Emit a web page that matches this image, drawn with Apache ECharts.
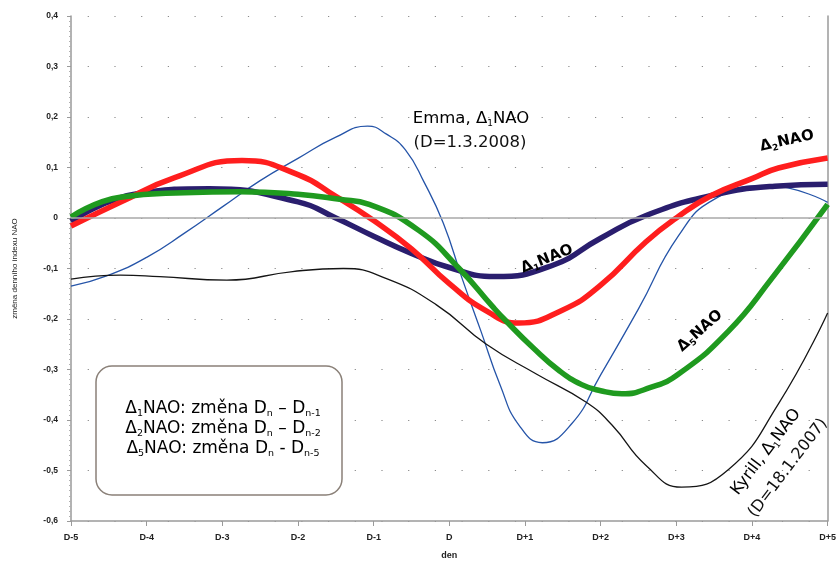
<!DOCTYPE html>
<html>
<head>
<meta charset="utf-8">
<script src="https://cdn.jsdelivr.net/npm/echarts@6/dist/echarts.min.js"></script>
<style>
  html, body { margin: 0; padding: 0; background: #fff; }
  #main { width: 839px; height: 565px; }
</style>
</head>
<body>
<div id="main"></div>
<script>
// osa x: den vzhledem k D
var dayLabels = ['D-5', 'D-4', 'D-3', 'D-2', 'D-1', 'D', 'D+1', 'D+2', 'D+3', 'D+4', 'D+5'];

// Emma (D=1.3.2008), Δ1NAO
var emmaDay = [-5, -4.5, -4, -3.5, -3, -2.5, -2, -1.5, -1.08, -0.83, -0.58, -0.33, -0.08, 0.17, 0.42, 0.67, 0.92, 1.23, 1.62, 1.98, 2.5, 3.03, 3.5, 4.2, 5];
var emmaVal = [-0.135, -0.113, -0.078, -0.03, 0.022, 0.074, 0.118, 0.16, 0.182, 0.166, 0.135, 0.07, -0.01, -0.12, -0.225, -0.33, -0.41, -0.445, -0.407, -0.316, -0.18, -0.035, 0.037, 0.064, 0.031];

// Kyrill (D=18.1.2007), Δ1NAO
var kyrillDay = [-5, -4.35, -3.83, -2.94, -2.07, -1.4, -0.83, -0.17, 0.49, 1.15, 1.81, 2.15, 2.6, 3.07, 3.69, 4.35, 5];
var kyrillVal = [-0.121, -0.113, -0.116, -0.123, -0.106, -0.1, -0.12, -0.172, -0.25, -0.309, -0.365, -0.41, -0.49, -0.533, -0.498, -0.368, -0.188];

// Δ1NAO průměr
var d1Day = [-5, -4.09, -3.17, -2, -1.5, -1, -0.5, 0, 0.6, 1.36, 2, 2.6, 3.48, 4.3, 5];
var d1Val = [-0.007, 0.049, 0.058, 0.032, 0.0, -0.036, -0.07, -0.098, -0.116, -0.094, -0.04, 0.005, 0.045, 0.063, 0.067];

// Δ2NAO průměr
var d2Day = [-5, -4.35, -3.63, -2.74, -2, -1.5, -1, -0.5, 0, 0.5, 0.92, 1.5, 2, 2.6, 3, 3.47, 4, 4.35, 5];
var d2Val = [-0.016, 0.031, 0.08, 0.114, 0.086, 0.043, -0.005, -0.061, -0.13, -0.185, -0.208, -0.182, -0.133, -0.047, 0.0, 0.045, 0.078, 0.099, 0.119];

// Δ5NAO průměr
var d5Day = [-5, -4.35, -3.5, -2.77, -2, -1.45, -1.06, -0.4, 0.13, 0.57, 0.75, 1.1, 1.45, 1.75, 2.0, 2.28, 2.65, 3.03, 3.69, 4.26, 5];
var d5Val = [0.002, 0.041, 0.05, 0.052, 0.047, 0.037, 0.027, -0.025, -0.1, -0.175, -0.204, -0.256, -0.302, -0.33, -0.342, -0.348, -0.336, -0.309, -0.224, -0.12, 0.027];

function pts(days, vals) {
    return days.map(function (x, i) { return [x, vals[i]]; });
}

var FONT = 'Liberation Sans';
var LFONT = 'DejaVu Sans';
var boldRich = {
    a: { fontFamily: LFONT, fontSize: 15, fontWeight: 'bold', color: '#111' },
    s: { fontFamily: LFONT, fontSize: 9, fontWeight: 'bold', color: '#111', verticalAlign: 'bottom', padding: [9, 0, 0, 0] }
};
var normRich = {
    a: { fontFamily: LFONT, fontSize: 16.5, color: '#111' },
    s: { fontFamily: LFONT, fontSize: 9, color: '#111', verticalAlign: 'bottom', padding: [10, 0, 0, 0] }
};
var legendRich = {
    a: { fontFamily: LFONT, fontSize: 17, color: '#111' },
    s: { fontFamily: LFONT, fontSize: 9.5, color: '#111', verticalAlign: 'bottom', padding: [10, 0, 0, 0] }
};

function lineSeries(name, days, vals, color, width) {
    return {
        name: name,
        type: 'line',
        smooth: 0.5,
        showSymbol: false,
        data: pts(days, vals),
        lineStyle: { color: color, width: width }
    };
}

var myChart = echarts.init(document.getElementById('main'));

var emmaSeries = lineSeries('Emma', emmaDay, emmaVal, '#2554a8', 1.3);
emmaSeries.markLine = {
    silent: true,
    symbol: 'none',
    label: { show: false },
    lineStyle: { color: '#a9a9a9', width: 1.5, type: 'solid' },
    data: [{ yAxis: 0 }]
};

var option = {
    backgroundColor: '#fff',
    animation: false,
    grid: {
        left: 71,
        right: 10,
        top: 16,
        bottom: 39
    },
    xAxis: {
        type: 'value',
        min: -5,
        max: 5,
        interval: 1,
        name: 'den',
        nameLocation: 'middle',
        nameGap: 30,
        nameTextStyle: { fontFamily: FONT, fontSize: 9, fontWeight: 'bold', color: '#222' },
        axisLine: { onZero: false, lineStyle: { color: '#9a9a9a', width: 1.5 } },
        axisTick: { show: true, length: 5, lineStyle: { color: '#9a9a9a' } },
        axisLabel: {
            fontFamily: FONT, fontSize: 9, fontWeight: 'bold', color: '#222', margin: 12,
            formatter: function (v) { return dayLabels[Math.round(v) + 5]; }
        },
        splitLine: { show: false }
    },
    yAxis: [{
        type: 'value',
        min: -0.6,
        max: 0.4,
        interval: 0.1,
        name: 'změna denního indexu NAO',
        nameLocation: 'middle',
        nameGap: 52,
        nameTextStyle: { fontFamily: FONT, fontSize: 8, color: '#222' },
        axisLine: { show: true, onZero: false, lineStyle: { color: '#9a9a9a', width: 1.5 } },
        axisTick: { show: true, length: 4, lineStyle: { color: '#9a9a9a' } },
        minorTick: { show: true, splitNumber: 10, length: 2, lineStyle: { color: '#b0b0b0' } },
        axisLabel: {
            fontFamily: FONT, fontSize: 8.5, fontWeight: 'bold', color: '#222', margin: 13,
            formatter: function (v) {
                var r = Math.round(v * 10) / 10;
                return r === 0 ? '0' : r.toFixed(1).replace('.', ',');
            }
        },
        splitLine: { show: true, lineStyle: { color: '#8a8a8a', width: 1.2, type: [1.2, 25.5], dashOffset: 10 } }
    }, {
        type: 'value',
        position: 'right',
        min: -0.6,
        max: 0.4,
        interval: 0.1,
        axisLine: { show: true, onZero: false, lineStyle: { color: '#9a9a9a', width: 1.5 } },
        axisTick: { show: false },
        axisLabel: { show: false },
        splitLine: { show: false }
    }],
    series: [
        emmaSeries,
        lineSeries('Kyrill', kyrillDay, kyrillVal, '#151515', 1.3),
        lineSeries('Δ1NAO', d1Day, d1Val, '#2a1e6e', 5.5),
        lineSeries('Δ2NAO', d2Day, d2Val, '#ff1e1e', 5.5),
        lineSeries('Δ5NAO', d5Day, d5Val, '#1f9a1f', 5.5)
    ],
    graphic: [
        // legenda v rámečku
        {
            type: 'rect',
            shape: { x: 96, y: 366, width: 246, height: 129, r: 16 },
            style: { fill: '#fff', stroke: '#8a8078', lineWidth: 1.5 },
            z: 100
        },
        {
            type: 'text', x: 223, y: 409, z: 101,
            style: { text: '{a|Δ}{s|1}{a|NAO: změna D}{s|n}{a| – D}{s|n-1}', rich: legendRich, align: 'center', verticalAlign: 'middle' }
        },
        {
            type: 'text', x: 223, y: 429, z: 101,
            style: { text: '{a|Δ}{s|2}{a|NAO: změna D}{s|n}{a| – D}{s|n-2}', rich: legendRich, align: 'center', verticalAlign: 'middle' }
        },
        {
            type: 'text', x: 223, y: 449, z: 101,
            style: { text: '{a|Δ}{s|5}{a|NAO: změna D}{s|n}{a| - D}{s|n-5}', rich: legendRich, align: 'center', verticalAlign: 'middle' }
        },
        // popisky křivek
        {
            type: 'text', x: 471, y: 119, z: 101,
            style: { text: '{a|Emma, Δ}{s|1}{a|NAO}', rich: normRich, align: 'center', verticalAlign: 'middle' }
        },
        {
            type: 'text', x: 470, y: 143, z: 101,
            style: { text: '(D=1.3.2008)', fontFamily: LFONT, fontSize: 16.5, fill: '#111', align: 'center', verticalAlign: 'middle' }
        },
        {
            type: 'text', x: 547, y: 259, rotation: 0.38, z: 101,
            style: { text: '{a|Δ}{s|1}{a|NAO}', rich: boldRich, align: 'center', verticalAlign: 'middle' }
        },
        {
            type: 'text', x: 787, y: 141, rotation: 0.22, z: 101,
            style: { text: '{a|Δ}{s|2}{a|NAO}', rich: boldRich, align: 'center', verticalAlign: 'middle' }
        },
        {
            type: 'text', x: 700, y: 331, rotation: 0.72, z: 101,
            style: { text: '{a|Δ}{s|5}{a|NAO}', rich: boldRich, align: 'center', verticalAlign: 'middle' }
        },
        {
            type: 'text', x: 766, y: 452, rotation: 0.92, z: 101,
            style: { text: '{a|Kyrill, Δ}{s|1}{a|NAO}', rich: normRich, align: 'center', verticalAlign: 'middle' }
        },
        {
            type: 'text', x: 788, y: 468, rotation: 0.92, z: 101,
            style: { text: '(D=18.1.2007)', fontFamily: LFONT, fontSize: 16, fill: '#111', align: 'center', verticalAlign: 'middle' }
        }
    ]
};
myChart.setOption(option);
</script>
</body>
</html>
